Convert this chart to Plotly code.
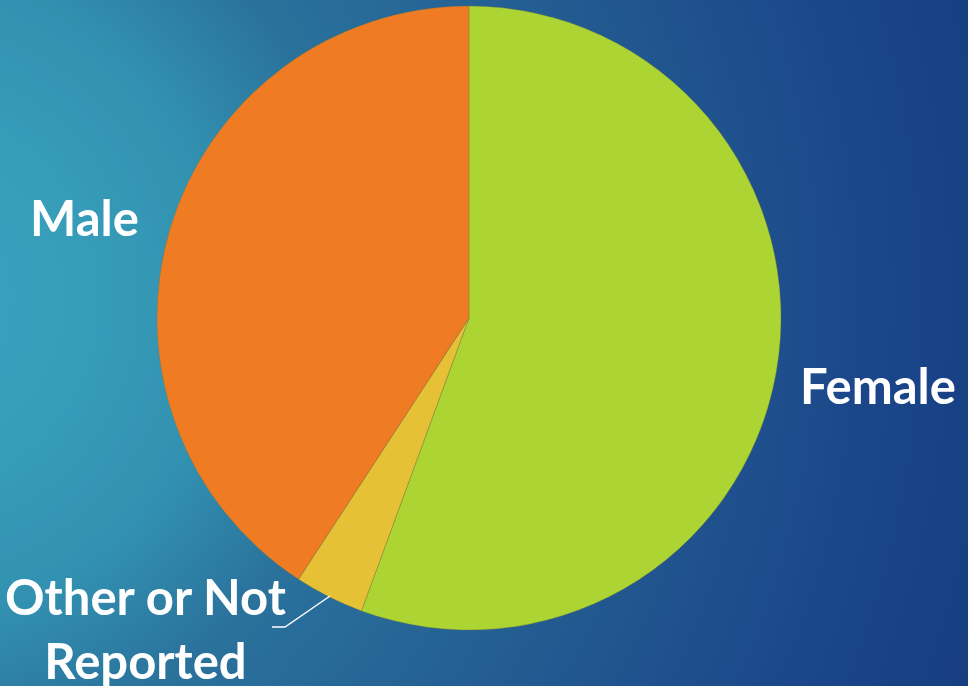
import base64
import plotly.graph_objects as go

labels = ["Female", "Other or Not Reported", "Male"]
values = [55.6, 3.6, 40.8]
colors = ["#acd433", "#e6c035", "#ef7b23"]

W, H = 968, 686

svg = f'''<svg xmlns="http://www.w3.org/2000/svg" width="{W}" height="{H}">
<defs><radialGradient id="g" gradientUnits="userSpaceOnUse" cx="-100" cy="300" r="1150">
<stop offset="0" stop-color="#39a3bf"/>
<stop offset="0.15" stop-color="#379eba"/>
<stop offset="0.28" stop-color="#3291b0"/>
<stop offset="0.4" stop-color="#2a729c"/>
<stop offset="0.65" stop-color="#225990"/>
<stop offset="0.85" stop-color="#1b468a"/>
<stop offset="1" stop-color="#163d80"/>
</radialGradient></defs>
<rect width="{W}" height="{H}" fill="url(#g)"/></svg>'''
bg_uri = "data:image/svg+xml;base64," + base64.b64encode(svg.encode()).decode()

cx, cy, r = 469, 318, 312

fig = go.Figure(go.Pie(
    labels=labels, values=values, sort=False, direction="clockwise", rotation=0,
    marker=dict(colors=colors, line=dict(color="rgba(120,120,60,0.6)", width=0.6)),
    textinfo="none", hoverinfo="label+percent", showlegend=False,
    domain=dict(x=[(cx - r) / W, (cx + r) / W], y=[(H - cy - r) / H, (H - cy + r) / H]),
))

def px(x, y):
    return x / W, 1 - y / H

font = dict(family="Lato, 'Open Sans', sans-serif", size=49, color="white")
ann = []
for lab, (x, y) in zip(labels, [(798, 385), (145, 628), (28, 217)]):
    ax, ay = px(x, y)
    if lab == "Female":
        ann.append(dict(text="<b>Female</b>", x=ax, y=ay, xanchor="left", yanchor="middle"))
    elif lab == "Male":
        ann.append(dict(text="<b>Male</b>", x=ax, y=ay, xanchor="left", yanchor="middle"))
    else:
        ann.append(dict(text="<b>Other or Not<br>Reported</b>", x=ax, y=ay, xanchor="center", yanchor="middle"))
for a in ann:
    a.update(xref="paper", yref="paper", showarrow=False, font=font, align="center")

x0, y0 = px(272, 627)
x1, y1 = px(285, 627)
x2, y2 = px(330, 596)
fig.add_shape(type="path", xref="paper", yref="paper",
              path=f"M {x0} {y0} L {x1} {y1} L {x2} {y2}",
              line=dict(color="white", width=1.5))

fig.update_layout(
    width=W, height=H, margin=dict(l=0, r=0, t=0, b=0),
    paper_bgcolor="#236196", plot_bgcolor="rgba(0,0,0,0)",
    annotations=ann,
    images=[dict(source=bg_uri, xref="paper", yref="paper", x=0, y=1, sizex=1, sizey=1,
                 xanchor="left", yanchor="top", sizing="stretch", layer="below")],
)
fig.write_html("out.html")
